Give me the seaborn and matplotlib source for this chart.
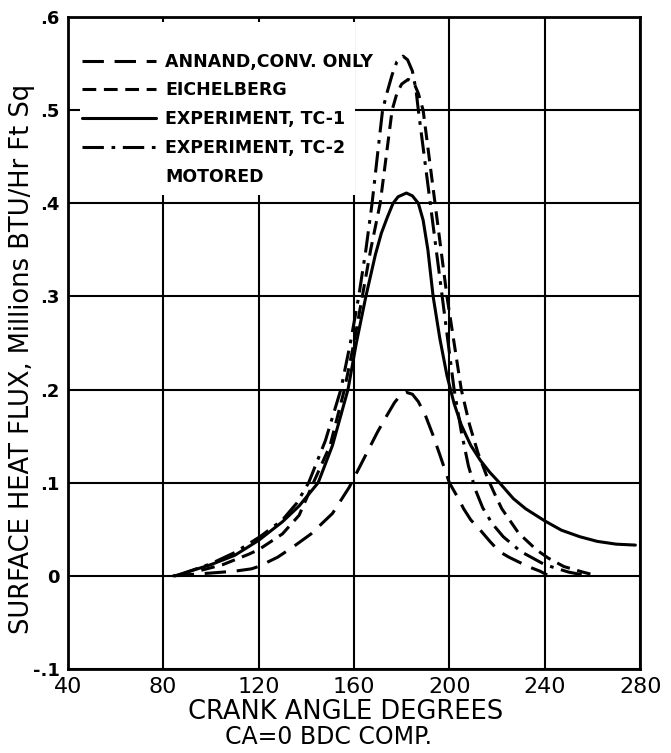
import numpy as np
import pandas as pd
import matplotlib
matplotlib.use("Agg")
import matplotlib.pyplot as plt
from matplotlib.lines import Line2D
from matplotlib.patches import Rectangle
import seaborn as sns

# ---------------- data ----------------
annand_ca = [84, 100, 110, 117, 120, 128, 135, 142, 151, 158, 164, 170, 174, 177, 179.5,
             182, 184.5, 187, 190, 193, 196, 200, 204, 206, 209, 213, 217, 221, 225, 229,
             234, 238, 241]
annand_q = [0.0, 0.003, 0.005, 0.0075, 0.010, 0.020, 0.032, 0.045, 0.067, 0.095, 0.125,
            0.155, 0.173, 0.186, 0.194, 0.197, 0.195, 0.187, 0.172, 0.152, 0.130, 0.100,
            0.082, 0.072, 0.060, 0.049, 0.037, 0.026, 0.020, 0.015, 0.009, 0.005, 0.001]

eich_ca = [96, 105, 115.7, 120, 130, 137, 143, 150, 156, 160, 163.5, 167, 171, 173.5,
           176, 178, 180, 182.7, 185, 187, 189, 191.5, 194, 196.5, 199, 202, 205, 208.5,
           212, 216, 219, 222, 229, 236.5, 241.5, 248, 256, 262]
eich_q = [0.006, 0.012, 0.023, 0.028, 0.045, 0.065, 0.100, 0.140, 0.200, 0.250, 0.300,
          0.350, 0.400, 0.450, 0.500, 0.518, 0.528, 0.533, 0.530, 0.518, 0.500, 0.450,
          0.400, 0.350, 0.300, 0.250, 0.200, 0.162, 0.132, 0.105, 0.088, 0.072, 0.046,
          0.028, 0.019, 0.010, 0.004, 0.0]

tc1_ca = [85, 90, 100, 110, 120, 130, 137, 145, 151, 157.5, 161, 165, 169, 171.5, 174,
          176.4, 178.5, 182, 184.5, 187, 189, 191, 193.2, 196, 199, 202, 205, 209, 213,
          217, 221, 226.8, 232, 240, 247, 254.7, 262, 270, 278]
tc1_q = [0.0, 0.004, 0.012, 0.022, 0.038, 0.058, 0.075, 0.100, 0.140, 0.200, 0.250,
         0.300, 0.345, 0.368, 0.385, 0.400, 0.407, 0.411, 0.408, 0.400, 0.382, 0.350,
         0.300, 0.255, 0.215, 0.185, 0.162, 0.140, 0.124, 0.111, 0.100, 0.083, 0.072,
         0.059, 0.049, 0.042, 0.037, 0.034, 0.033]

tc2_ca = [86, 90, 100, 110, 120.6, 130, 136, 141, 148, 154.5, 158.5, 162, 165, 167.6,
          170, 172, 174, 176, 178, 180.6, 182.5, 184.5, 186, 187, 189.5, 192, 194.5, 197,
          199.5, 202, 205, 208, 211, 214, 218, 222.6, 230, 240, 250, 258]
tc2_q = [0.0, 0.004, 0.013, 0.025, 0.042, 0.060, 0.078, 0.100, 0.145, 0.200, 0.250,
         0.300, 0.350, 0.400, 0.455, 0.500, 0.520, 0.538, 0.552, 0.558, 0.554, 0.542,
         0.522, 0.500, 0.450, 0.400, 0.350, 0.300, 0.250, 0.200, 0.155, 0.118, 0.092,
         0.073, 0.056, 0.042, 0.026, 0.012, 0.004, 0.0]

series_names = ["ANNAND,CONV. ONLY", "EICHELBERG", "EXPERIMENT, TC-1", "EXPERIMENT, TC-2"]
legend_labels = series_names + ["MOTORED"]
x_ticks = [40, 80, 120, 160, 200, 240, 280]
x_tick_labels = ["40", "80", "120", "160", "200", "240", "280"]
y_ticks = [-0.1, 0.0, 0.1, 0.2, 0.3, 0.4, 0.5, 0.6]
y_tick_labels = ["-.1", "0", ".1", ".2", ".3", ".4", ".5", ".6"]

frames = []
for name, xs, ys in zip(series_names,
                        [annand_ca, eich_ca, tc1_ca, tc2_ca],
                        [annand_q, eich_q, tc1_q, tc2_q]):
    frames.append(pd.DataFrame({"ca": xs, "q": ys, "series": name}))
df = pd.concat(frames, ignore_index=True)

# ---------------- styling ----------------
sns.set_theme(style="white")
plt.rcParams["font.family"] = ["DejaVu Sans"]
plt.rcParams["text.color"] = "black"
plt.rcParams["axes.labelcolor"] = "black"
plt.rcParams["xtick.color"] = "black"
plt.rcParams["ytick.color"] = "black"

dash_map = {
    "ANNAND,CONV. ONLY": (7, 3.5),
    "EICHELBERG": (4.5, 2.5),
    "EXPERIMENT, TC-1": "",
    "EXPERIMENT, TC-2": (7, 2.5, 1.2, 2.5),
}
pal = {n: "black" for n in series_names}

fig = plt.figure(figsize=(6.71, 7.53), dpi=100)
ax = fig.add_axes([0.101, 0.1116, 0.853, 0.8658])

sns.lineplot(data=df, x="ca", y="q", hue="series", style="series",
             palette=pal, dashes=dash_map, sort=False, estimator=None,
             linewidth=2.2, legend=False, ax=ax, zorder=3)

ax.set_xlim(40, 280)
ax.set_ylim(-0.1, 0.6)
ax.set_xticks(x_ticks)
ax.set_xticklabels(x_tick_labels, fontsize=16)
ax.set_yticks(y_ticks)
ax.set_yticklabels(y_tick_labels, fontsize=13, fontweight="bold")
ax.tick_params(axis="both", length=0, pad=6, colors="black")
ax.set_axisbelow(True)
ax.grid(True, color="black", linewidth=1.5)
for s in ax.spines.values():
    s.set_color("black")
    s.set_linewidth(2.0)

# white area behind the legend (as in the original, grid is hidden there)
ax.add_patch(Rectangle((0.022, 0.727), 0.48, 0.266, transform=ax.transAxes,
                       facecolor="white", edgecolor="none", zorder=1.5))

handles = []
for n in series_names:
    d = dash_map[n]
    if d == "":
        handles.append(Line2D([], [], color="black", linewidth=2.2))
    else:
        handles.append(Line2D([], [], color="black", linewidth=2.2, dashes=d))
handles.append(Line2D([], [], color="none"))
leg = ax.legend(handles, legend_labels, loc="upper left",
                bbox_to_anchor=(0.012, 0.956), frameon=False,
                handlelength=4.3, handletextpad=0.5, labelspacing=0.62,
                prop={"size": 12.5, "weight": "bold"}, borderaxespad=0.0)
leg.set_zorder(5)
for t in leg.get_texts():
    t.set_color("black")

ax.set_xlabel("CRANK ANGLE DEGREES", fontsize=18.5, labelpad=2, color="black")
ax.xaxis.set_label_coords(0.486, -0.066)
ax.xaxis.label.set_va("center")
fig.text(0.49, 0.021, "CA=0 BDC COMP.", fontsize=17, ha="center", va="center",
         color="black")
ax.set_ylabel("SURFACE HEAT FLUX, Millions BTU/Hr Ft Sq", fontsize=18.5,
              labelpad=2, color="black")
ax.yaxis.set_label_coords(-0.057, 0.475)

fig.savefig("out.png", dpi=100, facecolor="white")
